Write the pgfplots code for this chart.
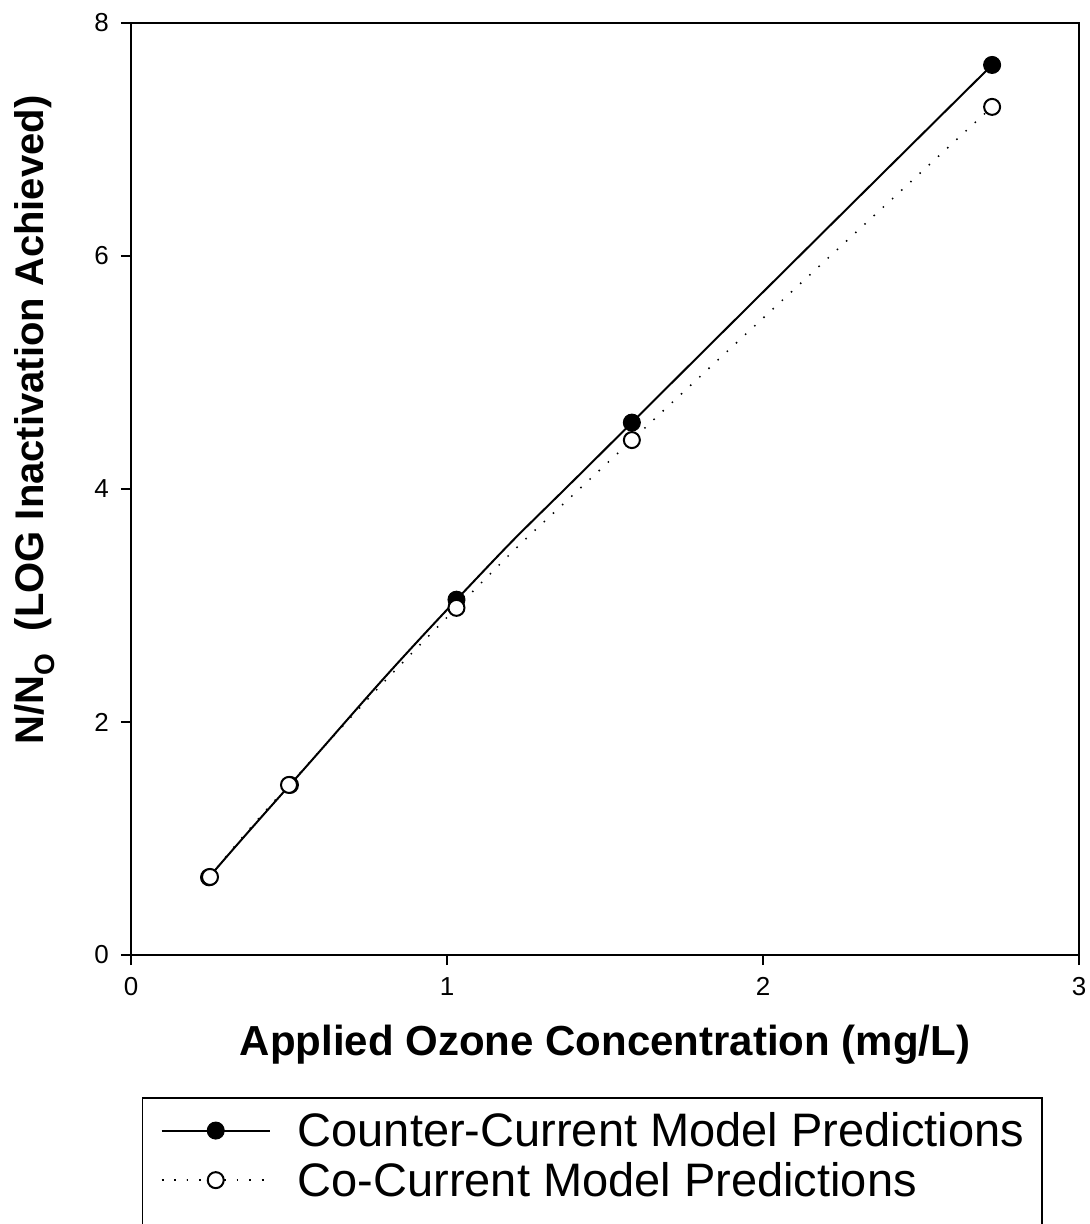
\documentclass[border=0pt]{standalone}
\usepackage{fontspec}
\setmainfont{Liberation Sans}
\setsansfont{Liberation Sans}
\usepackage{pgfplots}
\pgfplotsset{compat=1.18}
\begin{document}
\begin{tikzpicture}
\begin{axis}[
  at={(131pt,-955pt)}, anchor=south west,
  scale only axis, width=948pt, height=932pt,
  xmin=0, xmax=3, ymin=0, ymax=8,
  xtick={0,1,2,3}, ytick={0,2,4,6,8},
  xticklabels={0,1,2,3}, yticklabels={0,2,4,6,8},
  tick align=outside, tick pos=left, major tick length=10pt,
  axis line style={line width=1.6pt},
  every tick/.style={line width=1.4pt, black},
  /pgf/number format/assume math mode=true,
  tick label style={font=\fontsize{26}{30}\selectfont},
  xticklabel style={inner sep=0pt, yshift=-12pt},
  yticklabel style={inner sep=0pt, xshift=-12pt},
  xlabel={Applied Ozone Concentration (mg/L)},
  ylabel={N/N\textsubscript{O}\ \ (LOG Inactivation Achieved)},
  label style={font=\fontsize{42}{48}\selectfont\bfseries},
  xlabel style={at={(axis description cs:0.5,-0.1073)}, anchor=base},
  ylabel style={at={(axis description cs:-0.1013,0.574)}, anchor=center, font=\fontsize{40}{48}\selectfont\bfseries},
  legend style={
    at={(axis description cs:0.0116,-0.1524)}, anchor=north west,
    draw=black, line width=1.5pt,
    font=\fontsize{47}{52}\selectfont,
    inner xsep=18pt, inner ysep=15pt,
    nodes={inner sep=0pt, anchor=west},
    row sep=14pt, column sep=27pt,
  },
  legend cell align=left,
  legend image code/.code={
    \draw[mark repeat=2, mark phase=2] plot coordinates {(0pt,0pt) (54pt,0pt) (108pt,0pt)};
  },
]
% Counter-Current model predictions
\addplot[black, line width=2pt, smooth, tension=0.9, mark=*, mark size=8.5pt,
  mark options={solid, fill=black, line width=1pt}]
  coordinates {(0.247,0.667) (0.503,1.46) (1.03,3.05) (1.585,4.57) (2.725,7.64)};
\addlegendentry{Counter-Current Model Predictions}
% Co-Current model predictions
\addplot[black, line width=1.5pt, smooth, tension=0.9, dash pattern=on 1.5pt off 11pt,
  mark=*, mark size=8pt, mark options={solid, fill=white, draw=black, line width=2pt}]
  coordinates {(0.25,0.67) (0.5,1.46) (1.03,2.98) (1.585,4.42) (2.725,7.28)};
\addlegendentry{Co-Current Model Predictions}
\addlegendimage{empty legend}
\addlegendentry{\vphantom{C}}
\end{axis}
\pgfresetboundingbox
\path[use as bounding box] (0pt,0pt) rectangle (1090pt,-1224pt);
\end{tikzpicture}
\end{document}
